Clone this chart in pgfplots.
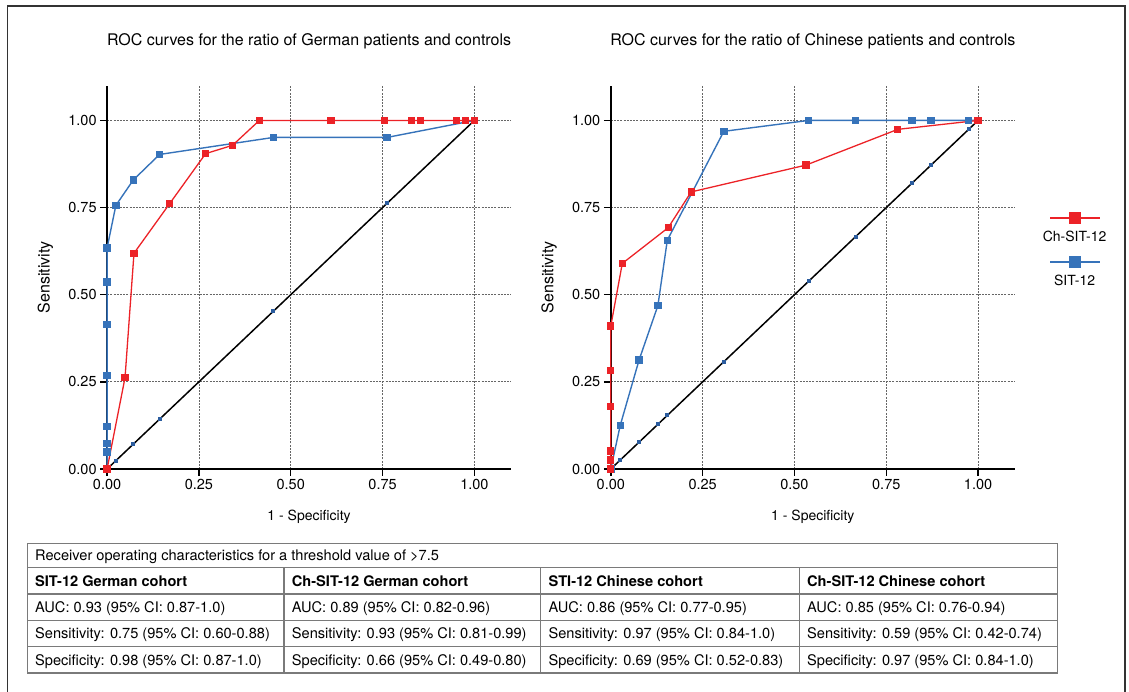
\documentclass[border=0pt]{standalone}
\usepackage{pgfplots}
\pgfplotsset{compat=1.18}
\usepackage{fontspec}
\setmainfont{TeX Gyre Heros}

\definecolor{rocred}{HTML}{EC2227}
\definecolor{rocblue}{HTML}{3673BA}
\definecolor{diagblue}{HTML}{2B5C9E}
\definecolor{framegray}{HTML}{333333}
\definecolor{tablegray}{HTML}{7A7A7A}

\newcommand{\tabfont}{\fontsize{14.6bp}{17bp}\selectfont}

\pgfplotsset{
  rocaxis/.style={
    scale only axis, width=404bp, height=383.4bp, anchor=south west,
    xmin=0, xmax=1.1, ymin=0, ymax=1.1, clip=false,
    axis lines=left, axis line style={-, line width=2bp, black},
    xtick={0,0.25,0.5,0.75,1}, ytick={0,0.25,0.5,0.75,1},
    xticklabels={0.00,0.25,0.50,0.75,1.00},
    yticklabels={0.00,0.25,0.50,0.75,1.00},
    tick align=outside, major tick length=7bp,
    tick style={line width=1.5bp, black},
    grid=major,
    major grid style={dash pattern=on 2bp off 1.2bp, black!60, line width=0.8bp},
    tick label style={font=\fontsize{14.5bp}{17bp}\selectfont},
    xlabel style={font=\fontsize{14bp}{17bp}\selectfont,
      at={(axis description cs:0.5,-0.1343)}, anchor=base},
    ylabel style={font=\fontsize{16bp}{19bp}\selectfont,
      at={(axis description cs:-0.1423,0.5)}, anchor=base},
    title style={font=\fontsize{16bp}{19bp}\selectfont,
      at={(axis description cs:0.5,1.0898)}, anchor=base},
    xlabel={1 - Specificity}, ylabel={Sensitivity},
  },
  diag/.style={black, line width=1.5bp, mark=square*, mark size=1.2bp,
    mark options={draw=diagblue, fill=diagblue, solid}, forget plot},
  sitblue/.style={rocblue, line width=1.4bp, mark=square*, mark size=3bp,
    mark options={solid}},
  chred/.style={rocred, line width=1.3bp, mark=square*, mark size=3bp,
    mark options={solid}},
}

\begin{document}
\begin{tikzpicture}[x=1bp, y=1bp]
\useasboundingbox (0,0) rectangle (1129,692);

% outer frame (bottom edge lies below the picture)
\draw[framegray, line width=1.5bp] (7.3,-10) -- (7.3,686) -- (1125,686) -- (1125,-10);

% German cohort
\begin{axis}[rocaxis, at={(107.1bp,223bp)},
  title={ROC curves for the ratio of German patients and controls}]
\addplot[diag] coordinates {
  (0,0) (0.0238,0.0238) (0.0714,0.0714) (0.1429,0.1429)
  (0.4524,0.4524) (0.7619,0.7619) (1,1)};
\addplot[sitblue] coordinates {
  (0,0) (0,0.0488) (0,0.0732) (0,0.1220) (0,0.2683) (0,0.4146)
  (0,0.5366) (0,0.6341) (0.0238,0.7561) (0.0714,0.8293)
  (0.1429,0.9024) (0.4524,0.9512) (0.7619,0.9512) (1,1)};
\addplot[chred] coordinates {
  (0,0) (0.0488,0.2619) (0.0732,0.6190) (0.1707,0.7619)
  (0.2683,0.9048) (0.3415,0.9286) (0.4146,1) (0.6098,1)
  (0.7561,1) (0.8293,1) (0.8537,1) (0.9512,1) (0.9756,1) (1,1)};
\end{axis}

% Chinese cohort
\begin{axis}[rocaxis, at={(610.8bp,223bp)},
  title={ROC curves for the ratio of Chinese patients and controls},
  reverse legend,
  legend style={draw=none, fill=none, inner sep=0pt, outer sep=0pt,
    row sep=31bp,
    nodes={inner sep=0pt, text height=10bp, text depth=3bp,
      font=\fontsize{14bp}{17bp}\selectfont},
    cells={anchor=center},
    at={(axis description cs:1.148,0.5450)}, anchor=center},
  legend image code/.code={
    \draw[overlay, #1, line width=2bp, mark size=5bp, mark repeat=2, mark phase=2]
      plot coordinates {(7.5bp,20bp) (32.5bp,20bp) (57.5bp,20bp)};}]
\addplot[diag] coordinates {
  (0,0) (0.0256,0.0256) (0.0769,0.0769) (0.1282,0.1282) (0.1538,0.1538)
  (0.3077,0.3077) (0.5385,0.5385) (0.6667,0.6667) (0.8205,0.8205)
  (0.8718,0.8718) (0.9744,0.9744) (1,1)};
\addplot[sitblue] coordinates {
  (0,0) (0.0256,0.125) (0.0769,0.3125) (0.1282,0.4688) (0.1538,0.6563)
  (0.3077,0.9688) (0.5385,1) (0.6667,1) (0.8205,1) (0.8718,1)
  (0.9744,1) (1,1)};
\addlegendentry{SIT-12}
\addplot[chred] coordinates {
  (0,0) (0,0.0256) (0,0.0513) (0,0.1795) (0,0.2821) (0,0.4103)
  (0.03125,0.5897) (0.15625,0.6923) (0.21875,0.7949) (0.53125,0.8718)
  (0.78125,0.9744) (1,1)};
\addlegendentry{Ch-SIT-12}
\end{axis}

% results table
\begin{scope}[tablegray, line width=1.2bp]
\draw (27.3,19) rectangle (1057.7,148.7);
\foreach \yy in {124.3,98,71.7,45.3} \draw (27.3,\yy) -- (1057.7,\yy);
\foreach \xx in {284,540.7,799.3} \draw (\xx,19) -- (\xx,124.3);
\end{scope}
\begin{scope}[every node/.style={anchor=base west, inner sep=0pt, font=\tabfont}]
\node at (35,131.3) {Receiver operating characteristics for a threshold value of >7.5};
\node at (35,105.9) {\bfseries SIT-12 German cohort};
\node at (291.7,105.9) {\bfseries Ch-SIT-12 German cohort};
\node at (548.4,105.9) {\bfseries STI-12 Chinese cohort};
\node at (807,105.9) {\bfseries Ch-SIT-12 Chinese cohort};
\node at (35,79.6) {AUC: 0.93 (95\% CI: 0.87-1.0)};
\node at (291.7,79.6) {AUC: 0.89 (95\% CI: 0.82-0.96)};
\node at (548.4,79.6) {AUC: 0.86 (95\% CI: 0.77-0.95)};
\node at (807,79.6) {AUC: 0.85 (95\% CI: 0.76-0.94)};
\node at (35,53.3) {Sensitivity: 0.75 (95\% CI: 0.60-0.88)};
\node at (291.7,53.3) {Sensitivity: 0.93 (95\% CI: 0.81-0.99)};
\node at (548.4,53.3) {Sensitivity: 0.97 (95\% CI: 0.84-1.0)};
\node at (807,53.3) {Sensitivity: 0.59 (95\% CI: 0.42-0.74)};
\node at (35,26.9) {Specificity: 0.98 (95\% CI: 0.87-1.0)};
\node at (291.7,26.9) {Specificity: 0.66 (95\% CI: 0.49-0.80)};
\node at (548.4,26.9) {Specificity: 0.69 (95\% CI: 0.52-0.83)};
\node at (807,26.9) {Specificity: 0.97 (95\% CI: 0.84-1.0)};
\end{scope}
\end{tikzpicture}
\end{document}
